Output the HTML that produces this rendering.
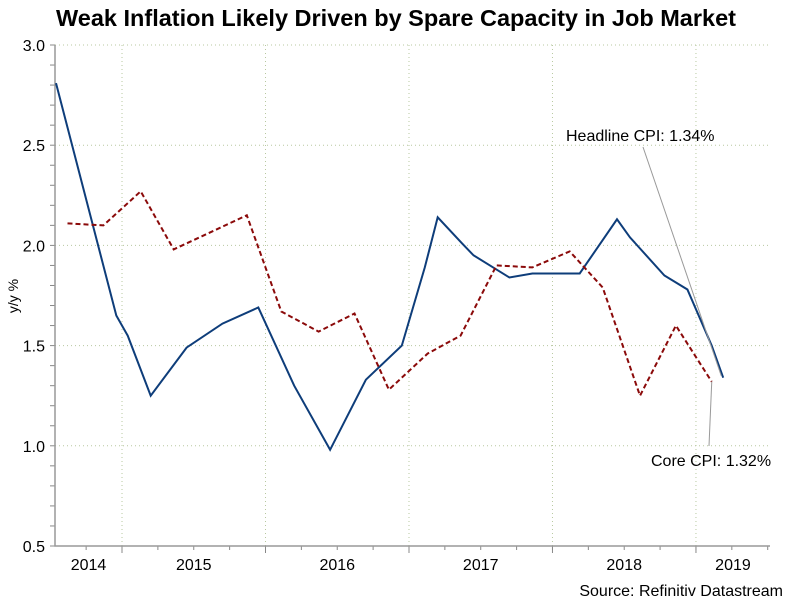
<!DOCTYPE html>
<html><head><meta charset="utf-8"><style>
body{margin:0;background:#fff;}
svg text{font-family:"Liberation Sans",Arial,sans-serif;}
</style></head><body>
<svg id="chart" width="804" height="599" xmlns="http://www.w3.org/2000/svg">
<text x="396" y="26" text-anchor="middle" font-size="23.5" font-weight="bold" fill="#000">Weak Inflation Likely Driven by Spare Capacity in Job Market</text>
<text transform="translate(18,296) rotate(-90)" text-anchor="middle" font-size="14" fill="#000">y/y %</text>
<text x="783" y="596" text-anchor="end" font-size="16" fill="#000">Source: Refinitiv Datastream</text>
<g id="grid"></g><g id="axes"></g><g id="series"></g><g id="annot"></g>
</svg>
<script>
const yTicks=[0.5,1.0,1.5,2.0,2.5,3.0];
const yearLabels=["2014","2015","2016","2017","2018","2019"];
const yearBounds=[2015,2016,2017,2018,2019];
const headlineDates=[2014.54,2014.96,2015.04,2015.20,2015.45,2015.70,2015.95,2016.20,2016.45,2016.70,2016.95,2017.11,2017.20,2017.37,2017.45,2017.70,2017.86,2018.03,2018.19,2018.45,2018.54,2018.78,2018.94,2019.11,2019.19];
const headlineValues=[2.81,1.65,1.55,1.25,1.49,1.61,1.69,1.30,0.98,1.33,1.50,1.89,2.14,2.01,1.95,1.84,1.86,1.86,1.86,2.13,2.04,1.85,1.78,1.50,1.34];
const coreDates=[2014.62,2014.87,2015.13,2015.36,2015.87,2016.11,2016.37,2016.62,2016.86,2017.13,2017.36,2017.61,2017.86,2018.12,2018.35,2018.61,2018.86,2019.11];
const coreValues=[2.11,2.10,2.27,1.98,2.15,1.67,1.57,1.66,1.28,1.46,1.55,1.90,1.89,1.97,1.79,1.25,1.60,1.32];

const L=55,R=770,T=45,B=546,X0=2014.533,X1=2019.516,Y0=0.5,Y1=3.0;
const xs=d=>L+(d-X0)/(X1-X0)*(R-L);
const ys=v=>B-(v-Y0)/(Y1-Y0)*(B-T);
const NS="http://www.w3.org/2000/svg";
function mk(tag,attrs,parent){const e=document.createElementNS(NS,tag);for(const k in attrs)e.setAttribute(k,attrs[k]);document.getElementById(parent).appendChild(e);return e;}

yTicks.forEach(v=>{
  if(v>Y0){const g=mk('line',{x1:L,x2:R,y1:ys(v),y2:ys(v),stroke:'#b8c8a0','stroke-width':1,'stroke-dasharray':'1,3'},'grid');
  
  }
  const t=mk('text',{x:L-10,y:ys(v)+6,'text-anchor':'end','font-size':16,fill:'#000'},'axes');t.textContent=v.toFixed(1);
  
  
});
for(let v=Y0;v<=Y1+1e-9;v+=0.1){mk('line',{x1:L-5,x2:L,y1:ys(v),y2:ys(v),stroke:'#888'},'axes');}
yearBounds.forEach(y=>{
  const g=mk('line',{x1:xs(y),x2:xs(y),y1:T,y2:B,stroke:'#b8c8a0','stroke-width':1,'stroke-dasharray':'1,3'},'grid');
  
  
  mk('line',{x1:xs(y),x2:xs(y),y1:B,y2:B+7,stroke:'#888'},'axes');
});
for(let q=2014.75;q<X1;q+=0.25){mk('line',{x1:xs(q),x2:xs(q),y1:B,y2:B+4,stroke:'#888'},'axes');}
yearLabels.forEach((lab,i)=>{
  const y=2014+i;const a=Math.max(X0,y),b=Math.min(X1,y+1);
  const t=mk('text',{x:xs((a+b)/2),y:B+24,'text-anchor':'middle','font-size':16,fill:'#000'},'axes');t.textContent=lab;
  
  
});
const ax=mk('path',{d:`M${L},${T}V${B}H${R}`,fill:'none',stroke:'#999','stroke-width':1.5},'axes');



function line(ds,vs,attrs,name){const p=mk('path',Object.assign({d:ds.map((d,i)=>(i?'L':'M')+xs(d).toFixed(1)+','+ys(vs[i]).toFixed(1)).join(''),fill:'none'},attrs),'series');
  
  }
line(headlineDates,headlineValues,{stroke:'#0e3d7a','stroke-width':2},'headline-cpi-line');
line(coreDates,coreValues,{stroke:'#8b0a0a','stroke-width':2,'stroke-dasharray':'5,3'},'core-cpi-line');

const hl=headlineDates.length-1, cl=coreDates.length-1;
const l1=mk('line',{x1:643,y1:147,x2:xs(headlineDates[hl])-2,y2:ys(headlineValues[hl])-2,stroke:'#999'},'annot');


const t1=mk('text',{x:566,y:141,'font-size':16,fill:'#000'},'annot');t1.textContent='Headline CPI: '+headlineValues[hl].toFixed(2)+'%';


const l2=mk('line',{x1:xs(coreDates[cl]),y1:ys(coreValues[cl]),x2:709,y2:446,stroke:'#999'},'annot');


const t2=mk('text',{x:651,y:466,'font-size':16,fill:'#000'},'annot');t2.textContent='Core CPI: '+coreValues[cl].toFixed(2)+'%';


</script>
</body></html>
